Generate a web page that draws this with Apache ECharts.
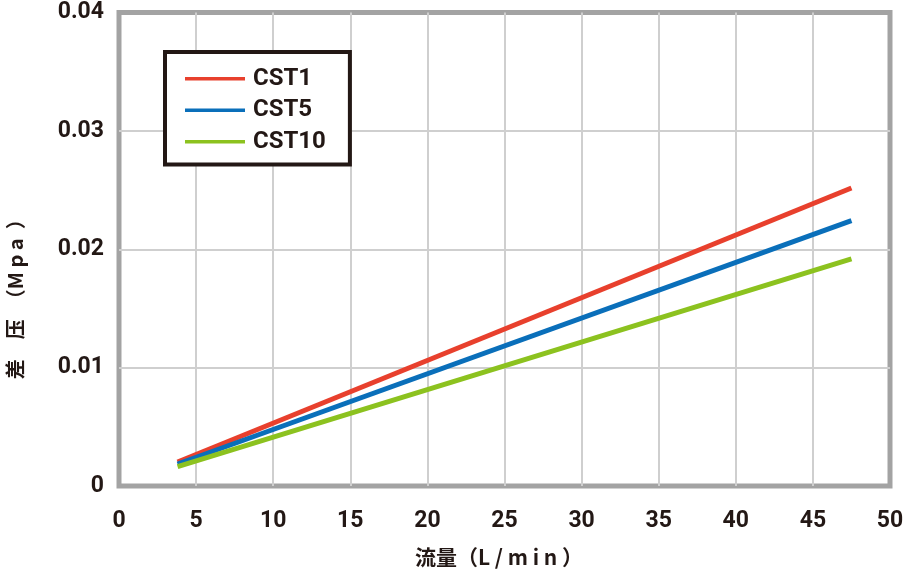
<!DOCTYPE html>
<html><head><meta charset="utf-8">
<script src="https://cdn.jsdelivr.net/npm/echarts@6/dist/echarts.min.js"></script>
<style>html,body{margin:0;padding:0;background:#fff}#c{width:903px;height:581px}</style>
</head><body><div id="c"></div>
<script>
const seriesNames = ['CST1', 'CST5', 'CST10'];
const flowX = [3.8, 47.5];
const cst1 = [0.00203, 0.02517];
const cst5 = [0.00186, 0.02241];
const cst10 = [0.00163, 0.01918];
const colors = ['#e8402d', '#0a6fba', '#8cc21f'];
const xTicks = [0, 5, 10, 15, 20, 25, 30, 35, 40, 45, 50];
const yTicks = [0, 0.01, 0.02, 0.03, 0.04];

const values = [cst1, cst5, cst10];
const chart = echarts.init(document.getElementById('c'));
const font = 'Roboto, "Liberation Sans", sans-serif';
chart.setOption({
  animation: false,
  grid: { left: 119, right: 13, top: 12.5, bottom: 95, show: true, borderColor: '#a3a3a3', borderWidth: 5, backgroundColor: 'transparent', containLabel: false, outerBoundsMode: 'none' },
  xAxis: {
    type: 'value', min: xTicks[0], max: xTicks[xTicks.length - 1], interval: 5,
    axisLine: { show: false }, axisTick: { show: false },
    splitLine: { show: true, showMinLine: false, showMaxLine: false, lineStyle: { color: '#cfcfcf', width: 2 } },
    axisLabel: { margin: 24, fontSize: 23, fontWeight: 'bold', color: '#231815', fontFamily: font },
    name: '流量（L / m i n ）', nameLocation: 'middle', nameGap: 61,
    nameTextStyle: { fontSize: 21, fontWeight: 'bold', color: '#231815', fontFamily: '"Noto Sans CJK JP", sans-serif', padding: [0, 11, 0, 0] }
  },
  yAxis: {
    type: 'value', min: yTicks[0], max: yTicks[yTicks.length - 1], interval: 0.01,
    axisLine: { show: false }, axisTick: { show: false },
    splitLine: { show: true, showMinLine: false, showMaxLine: false, lineStyle: { color: '#cfcfcf', width: 2 } },
    axisLabel: { margin: 15, fontSize: 23, fontWeight: 'bold', color: '#231815', fontFamily: font,
      formatter: v => v === 0 ? '0' : v.toFixed(2) },
    name: '差\u3000压\u3000（M p a  ）', nameLocation: 'middle', nameGap: 94,
    nameTextStyle: { fontSize: 20, fontWeight: 'bold', color: '#231815', fontFamily: '"Noto Sans CJK JP", sans-serif', padding: [0, 90, 0, 0] }
  },
  legend: {
    left: 165, top: 52, orient: 'vertical', itemGap: 0,
    icon: 'rect', itemWidth: 60, itemHeight: 3.5,
    padding: [11, 24, 7, 20],
    borderColor: '#231815', borderWidth: 4, backgroundColor: '#fff',
    textStyle: { fontSize: 24, fontWeight: 'bold', color: '#231815', fontFamily: font, lineHeight: 31.5, padding: [0, 0, 0, 3] },
    itemStyle: { borderWidth: 0 },
    data: seriesNames
  },
  series: seriesNames.map((n, i) => ({
    name: n, type: 'line', symbol: 'none', color: colors[i],
    lineStyle: { width: 5, color: colors[i], cap: 'butt' },
    data: flowX.map((x, j) => [x, values[i][j]])
  }))
});
</script></body></html>
